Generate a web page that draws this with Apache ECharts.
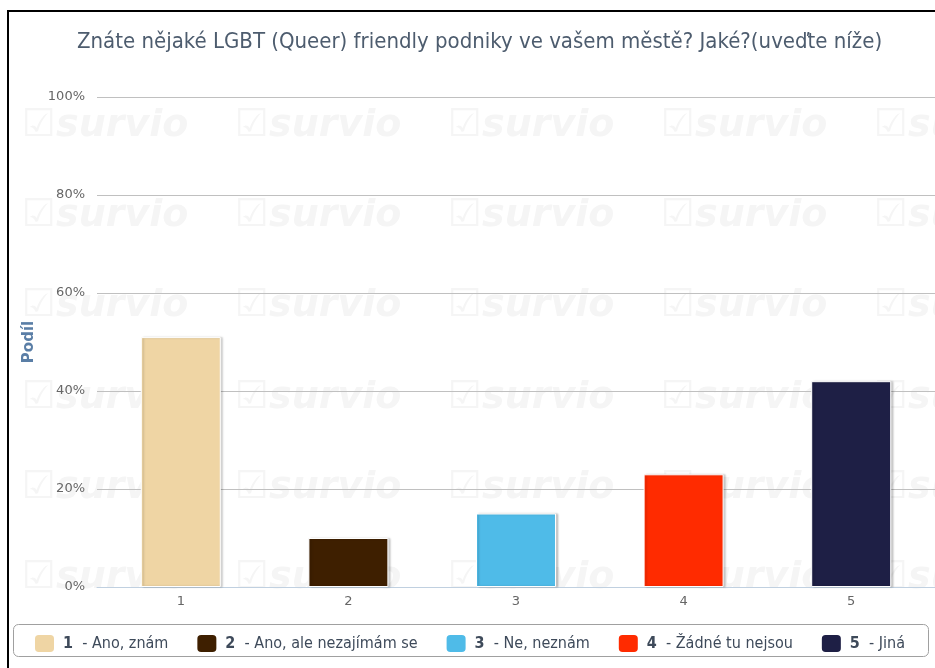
<!DOCTYPE html>
<html>
<head>
<meta charset="utf-8">
<script src="https://cdn.jsdelivr.net/npm/echarts@6/dist/echarts.min.js"></script>
<style>
  html, body { margin: 0; padding: 0; background: #fff; }
  #chart { width: 935px; height: 668px; }
</style>
</head>
<body>
<div id="chart"></div>
<script>
// data
var categories = ['1', '2', '3', '4', '5'];
var answers = ['Ano, znám', 'Ano, ale nezajímám se', 'Ne, neznám', 'Žádné tu nejsou', 'Jiná'];
var shares = [51, 10, 15, 23, 42];
var colors = ['#EFD5A4', '#3E1F00', '#4FBBE8', '#FF2B00', '#1E1F45'];
var yTicks = [0, 20, 40, 60, 80, 100];

var FONT = '"DejaVu Sans Condensed", "DejaVu Sans", sans-serif';

var chart = echarts.init(document.getElementById('chart'));

// one series per answer so every bar gets its own legend entry
var series = categories.map(function (c, i) {
    var data = categories.map(function (_, j) { return j === i ? shares[i] : '-'; });
    return {
        name: c,
        type: 'bar',
        stack: 'all',
        barWidth: 80,
        data: data,
        itemStyle: {
            color: colors[i],
            borderColor: '#fff',
            borderWidth: 1,
            shadowColor: 'rgba(0,0,0,0.2)',
            shadowBlur: 2,
            shadowOffsetX: 2,
            shadowOffsetY: 0
        },
        emphasis: { disabled: true },
        z: 3
    };
});

// faint "survio" watermark, black frame, legend box
var marks = [];
[129, 219, 309, 401, 491, 581].forEach(function (y) {
    [22, 235, 448, 661, 874].forEach(function (x) {
        marks.push({
            type: 'text', left: x, top: y - 22, z: -10, silent: true,
            style: { text: '\u2611survio', fill: '#f5f5f5', font: 'italic bold 38px "DejaVu Sans", sans-serif' }
        });
    });
});
marks.push({
    type: 'rect', silent: true, z: 100,
    shape: { x: 8, y: 11, width: 1000, height: 1000 },
    style: { fill: 'none', stroke: '#000', lineWidth: 2 }
});
marks.push({
    type: 'rect', silent: true, z: 0,
    shape: { x: 13.5, y: 624.5, width: 915, height: 32, r: 5 },
    style: { fill: '#fff', stroke: '#a0a0a0', lineWidth: 1 }
});

chart.setOption({
    animation: false,
    textStyle: { fontFamily: FONT },
    title: {
        text: 'Znáte nějaké LGBT (Queer) friendly podniky ve vašem městě? Jaké?(uveďte níže)',
        left: 72,
        top: 26,
        textStyle: { fontFamily: FONT, fontSize: 22, fontWeight: 'normal', color: '#4d5c6e' }
    },
    legend: {
        left: 33,
        top: 633,
        padding: 0,
        icon: 'roundRect',
        itemWidth: 21,
        itemHeight: 19,
        itemGap: 27,
        formatter: function (name) {
            return '{b|' + name + '}  - ' + answers[categories.indexOf(name)];
        },
        textStyle: {
            fontFamily: FONT,
            fontSize: 16,
            color: '#3e4a5a',
            padding: [0, 0, 0, 3],
            rich: { b: { fontFamily: FONT, fontSize: 16, fontWeight: 'bold', color: '#3e4a5a' } }
        },
        selectedMode: false
    },
    grid: { left: 97, right: -2, top: 97, bottom: 81 },
    xAxis: {
        type: 'category',
        data: categories,
        axisLine: { lineStyle: { color: '#c0d0e0' } },
        axisTick: { length: 5, lineStyle: { color: '#c0d0e0' } },
        axisLabel: { color: '#666', fontSize: 13, margin: 8, fontFamily: '"DejaVu Sans", sans-serif' }
    },
    yAxis: {
        type: 'value',
        min: yTicks[0],
        max: yTicks[yTicks.length - 1],
        interval: 20,
        name: 'Podíl',
        nameLocation: 'middle',
        nameGap: 57,
        nameTextStyle: { color: '#5a7ea6', fontWeight: 'bold', fontSize: 15, fontFamily: '"DejaVu Sans", sans-serif' },
        axisLine: { show: false },
        axisTick: { show: false },
        axisLabel: { color: '#666', fontSize: 13, margin: 12, formatter: '{value}%', fontFamily: '"DejaVu Sans", sans-serif' },
        splitLine: { lineStyle: { color: '#c0c0c0' } }
    },
    graphic: marks,
    series: series
});
</script>
</body>
</html>
